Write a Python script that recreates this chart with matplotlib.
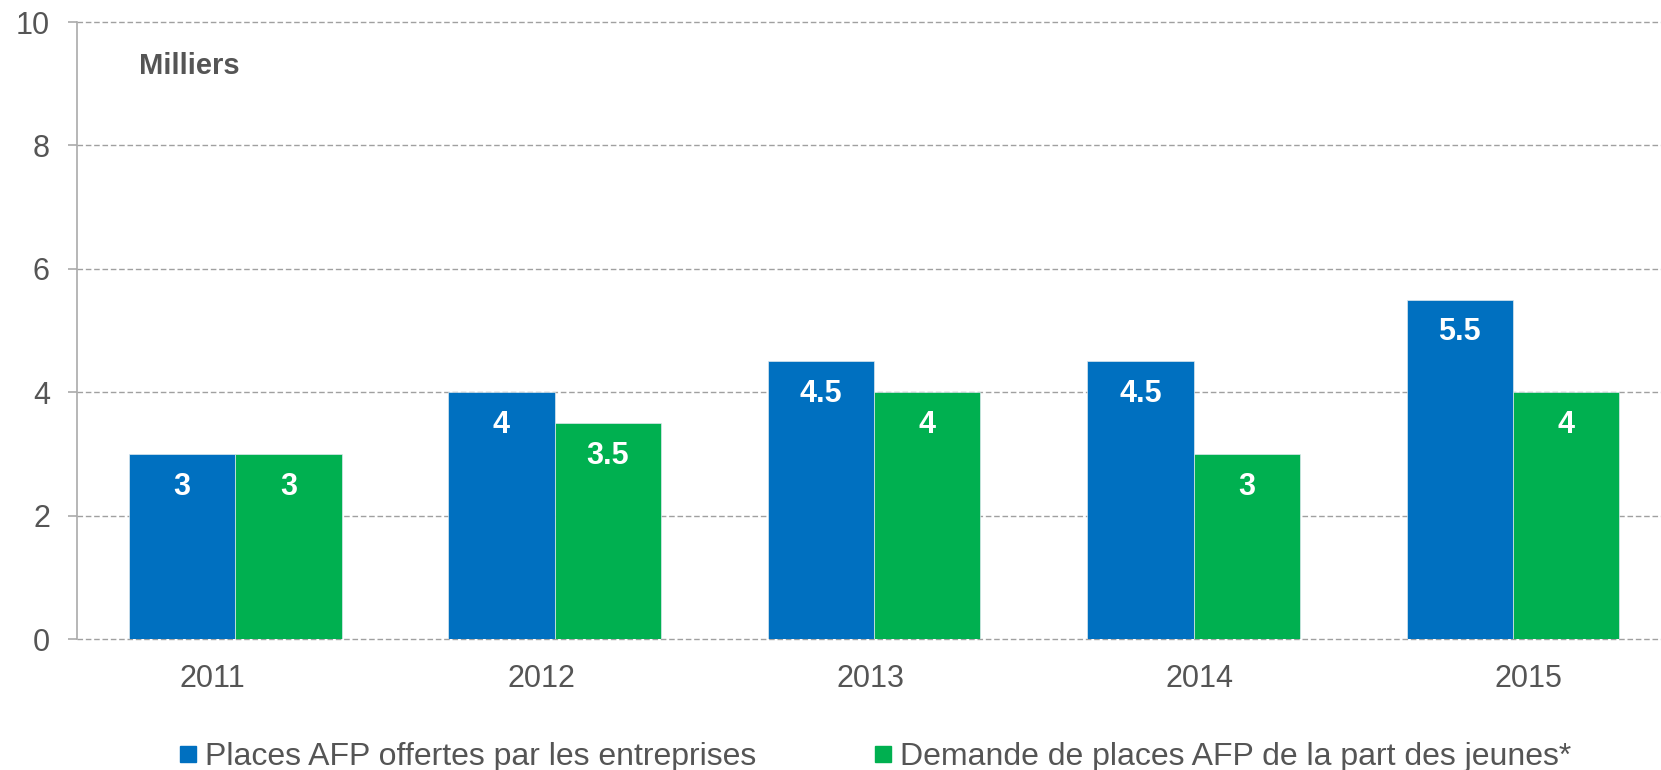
import matplotlib.pyplot as plt
from matplotlib.lines import Line2D
import numpy as np

plt.rcParams['font.family'] = ['Liberation Sans', 'DejaVu Sans']

years = ['2011', '2012', '2013', '2014', '2015']
places_offertes = [3, 4, 4.5, 4.5, 5.5]
demande_jeunes = [3, 3.5, 4, 3, 4]
labels_series = ['Places AFP offertes par les entreprises',
                 'Demande de places AFP de la part des jeunes*']

blue = '#0070C0'
green = '#00B050'
text_color = '#555555'
grid_color = '#A0A0A0'

fig = plt.figure(figsize=(16.61, 7.70), dpi=100)
ax = fig.add_axes([77 / 1661, 0.170, 1584 / 1661, 0.8014])

x = np.arange(len(years))
w = 0.333
bars1 = ax.bar(x - w / 2, places_offertes, w, color=blue, edgecolor='#dde8ee', linewidth=0.5, zorder=3)
bars2 = ax.bar(x + w / 2, demande_jeunes, w, color=green, edgecolor='#dde8ee', linewidth=0.5, zorder=3)

# value labels inside the bars, near the top
for bars in (bars1, bars2):
    for b in bars:
        h = b.get_height()
        ax.annotate(f'{h:g}', xy=(b.get_x() + b.get_width() / 2, h),
                    xytext=(0, -23.5), textcoords='offset points',
                    ha='center', va='center', color='white',
                    fontsize=22, fontweight='bold', zorder=4)

ax.set_xlim(-0.495, 4.463)
ax.set_ylim(0, 10)
ax.set_yticks([0, 2, 4, 6, 8, 10])
# the category labels in the original sit on a slightly wider spacing than the bars
ax.set_xticks(x * 1.03 - 0.072)
ax.set_xticklabels(years)

ax.grid(True, axis='y', linestyle=(0, (4, 2)), color=grid_color, linewidth=1.0, zorder=1)
ax.set_axisbelow(True)
for gl in ax.get_ygridlines():
    gl.set_clip_on(False)

for s in ['top', 'right', 'bottom']:
    ax.spines[s].set_visible(False)
ax.spines['left'].set_color('#AAAAAA')
ax.spines['left'].set_linewidth(1.2)

ax.tick_params(axis='x', length=0, pad=18, labelsize=22, labelcolor=text_color)
ax.tick_params(axis='y', length=6.5, width=1.2, color='#AAAAAA', pad=13,
               labelsize=22, labelcolor=text_color)

ax.text(0.039, 9.28, 'Milliers', transform=ax.get_yaxis_transform(),
        fontsize=21, fontweight='bold', color=text_color, va='center', ha='left')

handles = [Line2D([], [], marker='s', linestyle='none', markersize=12, color=blue),
           Line2D([], [], marker='s', linestyle='none', markersize=12, color=green)]
fig.legend(handles, labels_series, loc='center left', bbox_to_anchor=(0.106, 0.017),
           ncol=2, frameon=False, fontsize=23, handlelength=0.75, handletextpad=0.15,
           columnspacing=3.6, borderpad=0, borderaxespad=0, labelcolor=text_color)

fig.savefig('out.png', dpi=100)
